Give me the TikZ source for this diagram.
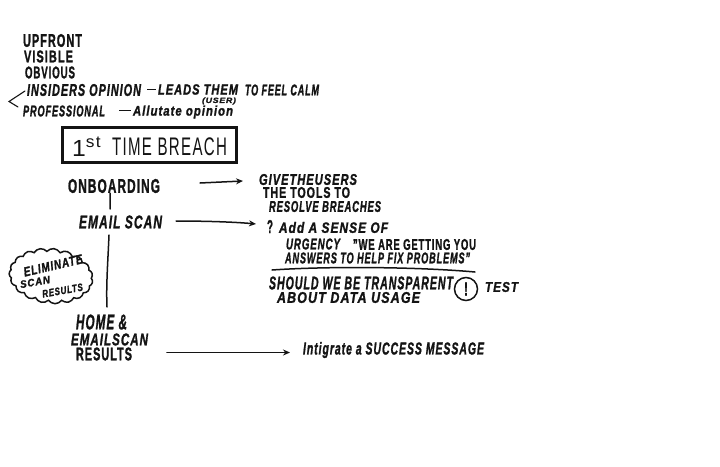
\documentclass[tikz,border=0pt]{standalone}
\usepackage{fontspec}
\usepackage{graphicx}
\setmainfont[LetterSpace=9,BoldFeatures={FakeBold=1.6},BoldItalicFeatures={FakeBold=1.6}]{Liberation Sans}
\usetikzlibrary{arrows.meta,shapes.symbols}
\newcommand\hw[3]{\resizebox*{#1pt}{#2pt}{#3}}
\definecolor{ink}{HTML}{141414}
\tikzset{
  x=1pt,y=-1pt,
  every node/.style={inner sep=0pt,outer sep=0pt,text=ink,anchor=west},
  hand/.style={font=\bfseries},
  handit/.style={font=\bfseries\itshape},
  pen/.style={draw=ink,line width=1.5pt,line cap=round},
  penarrow/.style={pen,-{Stealth[length=7pt,width=6pt]}},
}
\begin{document}
\begin{tikzpicture}
\useasboundingbox[fill=white] (0,0) rectangle (720,466);
% top list
\node[hand] (upfront) at (23,40.5) {\hw{59}{13}{UPFRONT}};
\node[hand] (visible) at (24,56.5) {\hw{49}{12}{VISIBLE}};
\node[hand] (obvious) at (25,72.5) {\hw{50}{12}{OBVIOUS}};
\node[handit] (insiders) at (27,90) {\hw{114}{12}{INSIDERS OPINION}};
\node[hand] (dash1) at (147,89.5) {\hw{9}{1.4}{\rule{9pt}{1.4pt}}};
\node[handit] (leads) at (158,89.5) {\hw{80}{10.5}{LEADS THEM}};
\node[handit] (feel) at (245,90) {\hw{74}{11}{TO FEEL CALM}};
\node[handit] (user) at (202,101) {\hw{34}{7}{(USER)}};
\node[handit] (prof) at (23,111) {\hw{82}{11}{PROFESSIONAL}};
\node[hand] (dash2) at (119,110.5) {\hw{12}{1.4}{\rule{12pt}{1.4pt}}};
\node[handit] (allu) at (133,112) {\hw{100}{13}{Allutate opinion}};
\coordinate (chevA) at (25,91);
\coordinate (chevB) at (9,101.5);
\coordinate (chevC) at (18,107);
\draw[pen,line width=1.1pt] (chevA) -- (chevB) -- (chevC);
% title box
\node[draw=ink,line width=2.1pt,minimum width=174pt,minimum height=35pt,anchor=center] (breach) at (149.5,145) {};
\node (b1) at (72,146.5) {\hw{30}{19}{1\textsuperscript{st}}};
\node (b2) at (112,146.5) {\hw{115}{18}{TIME BREACH}};
% left column
\node[hand] (onb) at (68,186) {\hw{92}{14}{ONBOARDING}};
\node[handit] (email) at (79,222) {\hw{83}{13}{EMAIL SCAN}};
\node[handit] (home) at (76,322) {\hw{51}{15}{HOME \&}};
\node[handit] (emailb) at (71,339.5) {\hw{77}{12}{EMAILSCAN}};
\node[hand] (resb) at (76,354) {\hw{56}{13}{RESULTS}};
\draw[pen] ([xshift=-4pt]onb.south) -- ([xshift=-10.5pt,yshift=6.5pt]email.north);
\draw[pen] ([xshift=-11.5pt,yshift=-6.5pt]email.south) .. controls (108,260) and (106,285) .. ([xshift=5.5pt,yshift=7.5pt]home.north);
% cloud
\node[cloud,draw=ink,line width=1.5pt,cloud puffs=19,cloud puff arc=110,aspect=1.5,minimum width=84pt,minimum height=55pt,anchor=center,rotate=-6] (cloud) at (51,276) {};
\node[handit,anchor=center,rotate=13] (cl1) at (53,265.5) {\hw{60}{9}{ELIMINATE}};
\node[handit,anchor=center,rotate=10] (cl2) at (35,282) {\hw{30}{7.5}{SCAN}};
\node[handit,anchor=center,rotate=10] (cl3) at (62.5,290.5) {\hw{41}{7.5}{RESULTS}};
% right column
\node[handit] (give) at (259,179.5) {\hw{98}{11}{GIVETHEUSERS}};
\node[hand] (tools) at (263,192.5) {\hw{87}{11}{THE TOOLS TO}};
\node[handit] (resolve) at (269,206.5) {\hw{112}{11}{RESOLVE BREACHES}};
\node[hand] (q) at (267,226.5) {\hw{6}{13}{?}};
\node[handit] (add) at (279,227.5) {\hw{109}{11}{Add A SENSE OF}};
\node[handit] (urg) at (286,244) {\hw{54}{11}{URGENCY}};
\node[hand] (we) at (353,244.5) {\hw{123}{11}{"WE ARE GETTING YOU}};
\node[handit] (ans) at (285,258) {\hw{185}{11}{ANSWERS TO HELP FIX PROBLEMS"}};
\coordinate (ruleA) at (272,270);
\coordinate (ruleB) at (475,272);
\draw[pen] (ruleA) .. controls (330,266) and (420,267) .. (ruleB);
\node[handit] (should) at (269,283) {\hw{184}{13}{SHOULD WE BE TRANSPARENT}};
\node[handit] (about) at (277,297.5) {\hw{143}{11}{ABOUT DATA USAGE}};
\node[draw=ink,line width=1.5pt,circle,minimum size=23pt,anchor=center] (bang) at (466,289) {};
\node[hand,anchor=center] (bangt) at (466,289) {\hw{4}{13}{!}};
\node[handit] (test) at (485,287) {\hw{33}{10}{TEST}};
\node[handit] (succ) at (303,350) {\hw{181}{16}{Intigrate a SUCCESS MESSAGE}};
% arrows
\draw[penarrow] ([xshift=40pt,yshift=3pt]onb.east) -- ([xshift=-16pt,yshift=-1.5pt]give.west);
\draw[penarrow] ([xshift=14pt,yshift=1pt]email.east) .. controls (205,221) and (235,222) .. ([xshift=-11pt,yshift=2.5pt]q.west);
\draw[penarrow,line width=1.8pt] ([xshift=35pt,yshift=1.5pt]resb.east) -- ([xshift=-13pt,yshift=-2.5pt]succ.west);
\end{tikzpicture}
\end{document}
